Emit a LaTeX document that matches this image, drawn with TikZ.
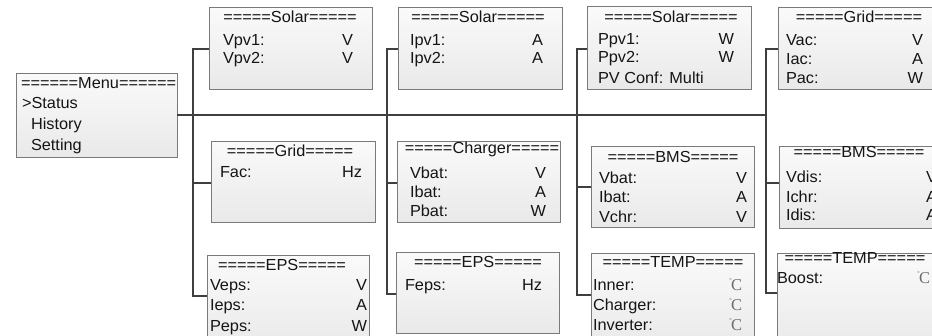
\documentclass[tikz,border=0pt]{standalone}
\usepackage{fontspec}
\setmainfont{Liberation Sans}[FakeStretch=1.02]
\newfontfamily\degfont{Liberation Serif}
\definecolor{boxborder}{HTML}{7A7A7A}
\definecolor{boxtop}{HTML}{FAFAFA}
\definecolor{boxbot}{HTML}{E9E9E9}
\definecolor{linecol}{HTML}{3F3F3F}
\definecolor{textcol}{HTML}{151515}
\definecolor{degcol}{HTML}{6A6A6A}
\newcommand\degC{{\color{degcol}\degfont\raisebox{0.45em}{\fontsize{6}{6}\selectfont\textdegree}\kern-0.8pt{\fontsize{16.5}{18}\selectfont C}}}
\newcommand\txtL[4]{\node[txt,anchor=base west] (#1) at (#2,#3) {#4};}
\newcommand\txtR[4]{\node[txt,anchor=base east] (#1) at (#2,#3) {#4};}
\newcommand\txtC[4]{\node[txt,anchor=base] (#1) at (#2,#3) {#4};}
\newcommand\panel[5]{\node[panelbox,minimum width=#4pt-#2pt,minimum height=#5pt-#3pt] (#1) at (#2,#3) {};}
\begin{document}
\begin{tikzpicture}[x=1pt,y=-1pt,
  panelbox/.style={rectangle,draw=boxborder,line width=1pt,top color=boxtop,bottom color=boxbot,inner sep=0pt,outer sep=0pt,anchor=north west},
  txt/.style={inner sep=0pt,outer sep=0pt,text=textcol,font=\fontsize{16}{18}\selectfont},
  conn/.style={draw=linecol,line width=2pt,line join=miter}]
\fill[white] (0,0) rectangle (932,335);
\clip (0,0) rectangle (932,335);
% panels
\panel{menu}{16}{73}{177}{157}
\panel{s1}{209}{7}{372}{89}
\panel{s2}{398}{7}{562}{89}
\panel{s3}{587}{6}{751}{89}
\panel{g2}{778}{7}{950}{89}
\panel{g1}{211}{141}{375}{222}
\panel{ch}{397}{141}{560}{222}
\panel{b1}{591}{146}{754}{227}
\panel{b2}{779}{146}{950}{228}
\panel{e1}{207}{255}{369}{350}
\panel{e2}{396}{252}{559}{333}
\panel{t1}{591}{253}{754}{350}
\panel{t2}{777}{253}{950}{350}
% menu
\txtL{mt}{21}{88}{======Menu======}
\txtL{m1}{22}{108}{>Status}
\txtL{m2}{31}{129}{History}
\txtL{m3}{31}{150}{Setting}
% solar 1
\txtC{s1t}{290}{22}{=====Solar=====}
\txtL{s1a}{223}{45}{Vpv1:}\txtR{s1av}{353}{45}{V}
\txtL{s1b}{223}{63}{Vpv2:}\txtR{s1bv}{353}{63}{V}
% solar 2
\txtC{s2t}{478}{22}{=====Solar=====}
\txtL{s2a}{410}{45}{Ipv1:}\txtR{s2av}{543}{45}{A}
\txtL{s2b}{410}{63}{Ipv2:}\txtR{s2bv}{543}{63}{A}
% solar 3
\txtC{s3t}{671}{22}{=====Solar=====}
\txtL{s3a}{598}{44}{Ppv1:}\txtR{s3av}{734}{44}{W}
\txtL{s3b}{598}{62}{Ppv2:}\txtR{s3bv}{734}{62}{W}
\txtL{s3c}{598}{83}{PV Conf: Multi}
% grid 2
\txtC{g2t}{859}{22}{=====Grid=====}
\txtL{g2a}{786}{45}{Vac:}\txtR{g2av}{923}{45}{V}
\txtL{g2b}{786}{64}{Iac:}\txtR{g2bv}{923}{64}{A}
\txtL{g2c}{786}{83}{Pac:}\txtR{g2cv}{923}{83}{W}
% grid 1
\txtC{g1t}{290}{156}{=====Grid=====}
\txtL{g1a}{220}{177}{Fac:}\txtR{g1av}{362}{177}{Hz}
% charger
\txtC{cht}{482}{153}{=====Charger=====}
\txtL{cha}{410}{178}{Vbat:}\txtR{chav}{546}{178}{V}
\txtL{chb}{410}{197}{Ibat:}\txtR{chbv}{546}{197}{A}
\txtL{chc}{410}{216}{Pbat:}\txtR{chcv}{546}{216}{W}
% bms 1
\txtC{b1t}{673}{162}{=====BMS=====}
\txtL{b1a}{599}{183}{Vbat:}\txtR{b1av}{747}{183}{V}
\txtL{b1b}{599}{202}{Ibat:}\txtR{b1bv}{747}{202}{A}
\txtL{b1c}{599}{222}{Vchr:}\txtR{b1cv}{747}{222}{V}
% bms 2
\txtC{b2t}{859}{157}{=====BMS=====}
\txtL{b2a}{786}{182}{Vdis:}\txtR{b2av}{937}{182}{V}
\txtL{b2b}{786}{202}{Ichr:}\txtR{b2bv}{937}{202}{A}
\txtL{b2c}{786}{220}{Idis:}\txtR{b2cv}{937}{220}{A}
% eps 1
\txtC{e1t}{282}{270}{=====EPS=====}
\txtL{e1a}{210}{290}{Veps:}\txtR{e1av}{367}{290}{V}
\txtL{e1b}{210}{310}{Ieps:}\txtR{e1bv}{367}{310}{A}
\txtL{e1c}{210}{331}{Peps:}\txtR{e1cv}{367}{331}{W}
% eps 2
\txtC{e2t}{478}{267}{=====EPS=====}
\txtL{e2a}{405}{290}{Feps:}\txtR{e2av}{542}{290}{Hz}
% temp 1
\txtC{t1t}{673}{267}{=====TEMP=====}
\txtL{t1a}{593}{290}{Inner:}\txtR{t1av}{742}{290}{\degC}
\txtL{t1b}{593}{310}{Charger:}\txtR{t1bv}{742}{310}{\degC}
\txtL{t1c}{593}{330}{Inverter:}\txtR{t1cv}{742}{330}{\degC}
% temp 2
\txtC{t2t}{855}{263}{=====TEMP=====}
\txtL{t2a}{777}{283}{Boost:}\txtR{t2av}{930}{283}{\degC}
% trunk coordinates
\coordinate (c1t) at (193,49); \coordinate (c1m) at (193,183); \coordinate (c1b) at (193,296);
\coordinate (c2t) at (387,49); \coordinate (c2m) at (387,183); \coordinate (c2b) at (387,294);
\coordinate (c3t) at (577,49); \coordinate (c3m) at (577,187); \coordinate (c3b) at (577,295);
\coordinate (c4t) at (766,49); \coordinate (c4m) at (766,183); \coordinate (c4b) at (766,293);
% connectors
\draw[conn] (menu.east) -- (menu.east -| c4t);
\draw[conn] (s1.west |- c1t) -- (c1t) -- (c1b) -- (e1.west |- c1b);
\draw[conn] (c1m) -- (g1.west |- c1m);
\draw[conn] (s2.west |- c2t) -- (c2t) -- (c2b) -- (e2.west |- c2b);
\draw[conn] (c2m) -- (ch.west |- c2m);
\draw[conn] (s3.west |- c3t) -- (c3t) -- (c3b) -- (t1.west |- c3b);
\draw[conn] (c3m) -- (b1.west |- c3m);
\draw[conn] (g2.west |- c4t) -- (c4t) -- (c4b) -- (t2.west |- c4b);
\draw[conn] (c4m) -- (b2.west |- c4m);
\end{tikzpicture}
\end{document}
